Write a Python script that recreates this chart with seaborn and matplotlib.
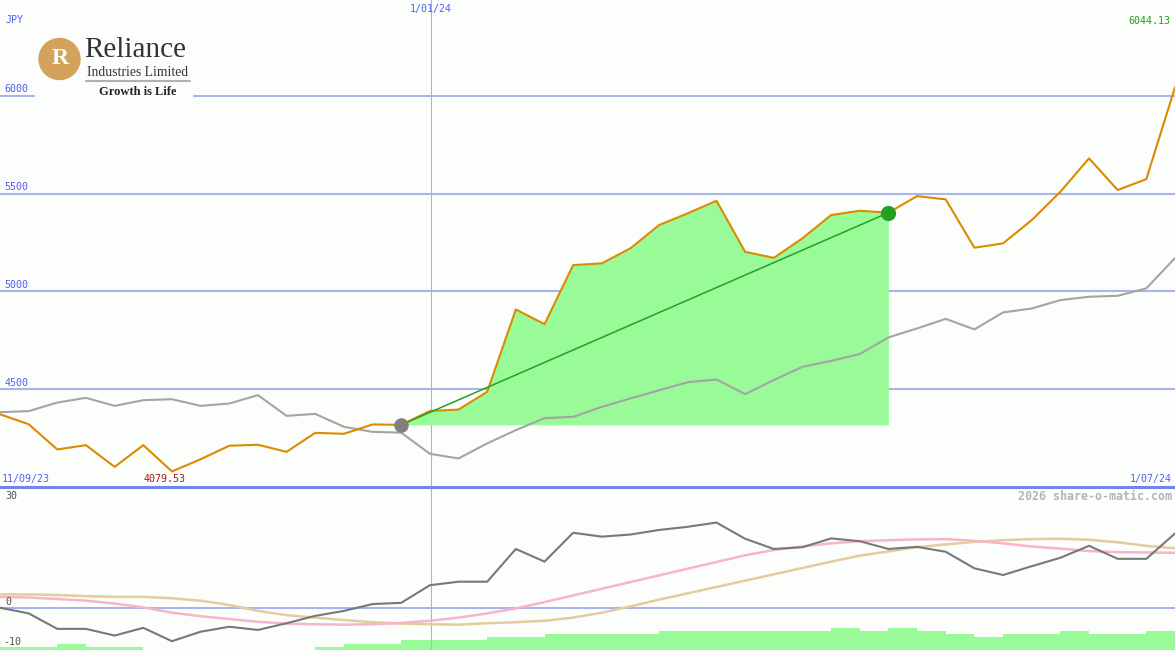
import numpy as np
import pandas as pd
import seaborn as sns
import matplotlib.pyplot as plt
from matplotlib.patches import Circle, Rectangle
from matplotlib.lines import Line2D
from matplotlib.transforms import IdentityTransform, blended_transform_factory

sns.set_theme(style='white')
plt.rcParams['font.family'] = ['DejaVu Sans Mono']

# weekly points, 11/09/23 .. 1/07/24
weeks = list(range(42))
price = [4372, 4321, 4192, 4214, 4103, 4214, 4079.53, 4142, 4211, 4216,
         4180, 4277, 4272, 4320, 4318, 4389, 4396, 4487, 4908, 4833,
         5135, 5144, 5221, 5340, 5400, 5464, 5203, 5172, 5272, 5391,
         5413, 5403, 5488, 5471, 5224, 5246, 5365, 5510, 5681, 5519,
         5575, 6044.13]
compare = [4383, 4388, 4432, 4456, 4415, 4444, 4449, 4415, 4427, 4470,
           4364, 4374, 4308, 4282, 4278, 4170, 4146, 4223, 4291, 4352,
           4359, 4410, 4453, 4495, 4536, 4550, 4475, 4547, 4615, 4645,
           4680, 4765, 4811, 4860, 4806, 4893, 4913, 4956, 4973, 4978,
           5016, 5171]
osc = [0, -1.6, -6.0, -6.0, -7.9, -5.7, -9.5, -6.8, -5.4, -6.3,
       -4.4, -2.3, -0.9, 1.05, 1.4, 6.4, 7.4, 7.4, 16.7, 13.1,
       21.3, 20.2, 20.8, 22.1, 23.0, 24.2, 19.6, 16.7, 17.2, 19.7,
       18.9, 16.7, 17.3, 15.9, 11.2, 9.3, 11.8, 14.2, 17.6, 13.9,
       13.9, 21.1]
osc_fast = [3.1, 2.9, 2.5, 2.0, 1.2, 0.1, -1.4, -2.4, -3.2, -4.0,
            -4.5, -4.7, -4.8, -4.7, -4.3, -3.7, -2.8, -1.6, -0.2, 1.6,
            3.5, 5.4, 7.3, 9.2, 11.1, 13.0, 14.9, 16.4, 17.4, 18.3,
            18.9, 19.2, 19.4, 19.5, 19.0, 18.3, 17.4, 16.8, 16.1, 15.8,
            15.7, 15.6]
osc_slow = [3.8, 3.8, 3.6, 3.3, 3.1, 3.1, 2.7, 2.0, 0.8, -0.9,
            -2.1, -2.8, -3.5, -4.1, -4.5, -4.7, -4.8, -4.4, -4.1, -3.7,
            -2.8, -1.4, 0.4, 2.3, 4.1, 5.9, 7.7, 9.5, 11.3, 13.1,
            14.8, 16.0, 17.2, 18.0, 18.7, 19.2, 19.5, 19.6, 19.3, 18.6,
            17.6, 16.9]
volume = [1, 1, 2, 1, 1, 0, 0, 0, 0, 0,
          0, 1, 2, 2, 3, 3, 3, 4, 4, 5,
          5, 5, 5, 6, 6, 6, 6, 6, 6, 7,
          6, 7, 6, 5, 4, 5, 5, 6, 5, 5, 6]
price_ticks = [4500, 5000, 5500, 6000]
osc_labels = ['30', '0', '-10']
start_i, end_i = 14, 31
jan_pos = 15.04

W, H = 1175, 650
bg = '#fcfefc'
blue_txt = '#4f5ff0'
grid_c = '#a8b4f0'

df = pd.DataFrame({'week': weeks, 'price': price, 'compare': compare,
                   'osc': osc, 'fast': osc_fast, 'slow': osc_slow})

fig = plt.figure(figsize=(W / 100, H / 100), dpi=100)
fig.patch.set_facecolor(bg)
ax = fig.add_axes([0, 163 / H, 1, 487 / H])
axv = fig.add_axes([0, 0, 1, 163 / H])
axb = fig.add_axes([0, 0, 1, 163 / H], label='osc')
ax.set_zorder(3)

for a in (ax, axv, axb):
    a.set_xlim(0, 41)
    a.set_xticks([])
    a.set_yticks([])
    for s in a.spines.values():
        s.set_visible(False)
ax.set_facecolor(bg)
axv.set_facecolor(bg)
axb.patch.set_alpha(0)

# ---- price panel
ax.set_ylim(4000, 6491)
for v in price_ticks:
    ax.axhline(v, color=grid_c, lw=1.5, zorder=1)
ax.axhline(4000, color='#7484ec', lw=2.2, zorder=3, clip_on=False)
ax.axvline(jan_pos, color='#a8aed8', lw=0.8, zorder=1)

seg = df.iloc[start_i:end_i + 1]
ax.fill_between(seg['week'], price[start_i], seg['price'], color='#98fb98', lw=0, zorder=2)
sns.lineplot(data=df, x='week', y='compare', ax=ax, color='#a4a4a4', lw=1.5, zorder=3)
sns.lineplot(data=df, x='week', y='price', ax=ax, color='#dc8a00', lw=1.5, zorder=4)
ax.plot([start_i, end_i], [price[start_i], price[end_i]], color='#22a022', lw=1.1, zorder=5)
ax.scatter([start_i], [price[start_i]], s=110, color='#808080', zorder=6, lw=0)
ax.scatter([end_i], [price[end_i]], s=120, color='#22a022', zorder=6, lw=0)
ax.set_xlabel('')
ax.set_ylabel('')

ytr = blended_transform_factory(ax.transAxes, ax.transData)
for v in price_ticks:
    ax.text(0.004, v + 8, str(v), transform=ytr, color=blue_txt, fontsize=7.2,
            va='bottom', ha='left', zorder=7)

# ---- oscillator panel
axv.bar(range(len(volume)), volume, width=1, align='edge', color='#98fb98', lw=0)
axv.set_ylim(0, 51)
axb.set_ylim(-12.0, 34.3)
axb.axhline(0, color=grid_c, lw=1.5, zorder=1)
axb.axvline(jan_pos, color='#a8b0e8', lw=0.8, zorder=1)
sns.lineplot(data=df, x='week', y='slow', ax=axb, color='#e4cca0', lw=1.8, zorder=2)
sns.lineplot(data=df, x='week', y='fast', ax=axb, color='#f8b4c8', lw=1.8, zorder=3)
sns.lineplot(data=df, x='week', y='osc', ax=axb, color='#787878', lw=1.5, zorder=4)
axb.set_xlabel('')
axb.set_ylabel('')


def ftxt(px, py, s, **kw):
    fig.text(px / W, 1 - py / H, s, **kw)


ftxt(6, 20, 'JPY', color=blue_txt, fontsize=7.2, va='center', ha='left')
ftxt(431, 9, '1/01/24', color=blue_txt, fontsize=7.2, va='center', ha='center')
ftxt(1170, 21, '6044.13', color='#20a020', fontsize=7.2, va='center', ha='right')
ftxt(2, 479, '11/09/23', color=blue_txt, fontsize=7.2, va='center', ha='left')
ftxt(1172, 479, '1/07/24', color=blue_txt, fontsize=7.2, va='center', ha='right')
ftxt(165, 479, '4079.53', color='#a01818', fontsize=7.2, va='center', ha='center')
ftxt(5, 496, osc_labels[0], color='#505050', fontsize=7.2, va='center', ha='left')
ftxt(5, 602, osc_labels[1], color='#505050', fontsize=7.2, va='center', ha='left')
ftxt(3, 642, osc_labels[2], color='#505050', fontsize=7.2, va='center', ha='left')
ftxt(1172, 496, '2026 share-o-matic.com', color='#b4b4b4', fontsize=8.4,
     fontweight='bold', va='center', ha='right')

# ---- logo
fig.add_artist(Rectangle((35 / W, 1 - 101 / H), 157 / W, 72 / H,
                         transform=fig.transFigure, color=bg, zorder=4))
fig.add_artist(Circle((59.5, H - 59), 20.5, transform=IdentityTransform(),
                      color='#d3a35d', zorder=5))
ftxt(60, 58, 'R', color=bg, fontsize=17, family='Liberation Serif',
     fontweight='bold', va='center', ha='center', zorder=6)
ftxt(84, 50, 'Reliance', color='#333333', fontsize=21, family='Liberation Serif',
     va='center', ha='left', zorder=6)
ftxt(87, 72, 'Industries Limited', color='#333333', fontsize=9.8,
     family='Liberation Serif', va='center', ha='left', zorder=6)
fig.add_artist(Line2D([86 / W, 190 / W], [1 - 81 / H, 1 - 81 / H], color='#b0b0b0',
                      lw=1.5, transform=fig.transFigure, zorder=6))
ftxt(138, 92, 'Growth is Life', color='#222222', fontsize=9,
     family='Liberation Serif', fontweight='bold', va='center', ha='center', zorder=6)

fig.savefig('out.png', dpi=100, facecolor=bg)
